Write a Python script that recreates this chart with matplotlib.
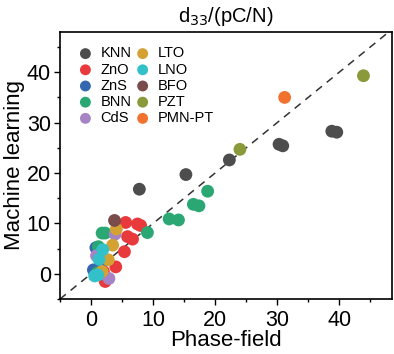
import matplotlib
matplotlib.use("Agg")
import matplotlib.pyplot as plt
from matplotlib.ticker import MultipleLocator

plt.rcParams['font.family'] = ['Liberation Sans', 'DejaVu Sans']

materials = ["KNN", "ZnO", "ZnS", "BNN", "CdS", "LTO", "LNO", "BFO", "PZT", "PMN-PT"]
colors = ["#4d4d4d", "#e8393c", "#3566b0", "#2aa772", "#a583c4",
          "#d4a133", "#33c1c9", "#7a4b4b", "#8a9a3a", "#f0722e"]

phase_field = {
    "KNN": [39.6, 38.8, 30.9, 30.3, 22.3, 15.3, 7.8, 1.0],
    "ZnO": [5.6, 7.5, 8.0, 5.9, 6.7, 5.4, 4.0, 2.3, 2.0],
    "ZnS": [0.4, 1.5, 0.8],
    "BNN": [18.8, 16.5, 17.4, 12.6, 14.1, 9.1, 1.8, 2.3, 1.2, 1.0],
    "CdS": [3.9, 0.9, 2.9, 1.5],
    "LTO": [4.1, 3.5, 2.8, 1.8],
    "LNO": [1.3, 1.1, 1.9, 0.6],
    "BFO": [3.8],
    "PZT": [43.9, 24.0],
    "PMN-PT": [31.2],
}
machine_learning = {
    "KNN": [28.1, 28.3, 25.4, 25.7, 22.6, 19.7, 16.8, 0.3],
    "ZnO": [10.2, 9.9, 9.6, 7.4, 6.9, 4.4, 1.4, -1.5, 0.5],
    "ZnS": [0.8, 1.6, 5.2],
    "BNN": [16.4, 13.8, 13.5, 10.9, 10.7, 8.2, 8.1, 8.1, 5.4, 0.2],
    "CdS": [7.9, 3.6, -0.9, 0.0],
    "LTO": [8.9, 5.7, 2.8, 0.5],
    "LNO": [2.9, -0.2, 4.8, -0.4],
    "BFO": [10.6],
    "PZT": [39.3, 24.7],
    "PMN-PT": [35.0],
}

fig = plt.figure(figsize=(3.94, 3.54), dpi=100)
ax = fig.add_axes([0.152, 0.155, 0.843, 0.755])

xlim = (-5, 48.5)
ylim = (-5, 48)
ax.plot([-5, 50], [-5, 50], ls=(0, (5, 4)), color="#333333", lw=1.1, zorder=1)

for m, c in zip(materials, colors):
    ax.scatter(phase_field[m], machine_learning[m], s=85, color=c, label=m,
               edgecolors="none", zorder=2)

ax.set_xlim(*xlim)
ax.set_ylim(*ylim)
ax.xaxis.set_major_locator(MultipleLocator(10))
ax.yaxis.set_major_locator(MultipleLocator(10))
ax.xaxis.set_minor_locator(MultipleLocator(5))
ax.yaxis.set_minor_locator(MultipleLocator(5))
ax.tick_params(which="major", direction="out", length=4.5, width=1.0, labelsize=15.5)
ax.tick_params(axis="x", which="major", pad=3.5)
ax.tick_params(axis="y", which="major", pad=2)
ax.tick_params(which="minor", direction="out", length=2.5, width=1.0)
for sp in ax.spines.values():
    sp.set_linewidth(1.2)

ax.set_xlabel("Phase-field", fontsize=16, labelpad=-1)
ax.set_ylabel("Machine learning", fontsize=16, labelpad=1)
ax.set_title("d$_{33}$/(pC/N)", fontsize=14.5, pad=7)

leg = ax.legend(ncol=2, loc="upper left", frameon=False, fontsize=10.5,
                handletextpad=0.3, columnspacing=0.0, labelspacing=0.15,
                borderaxespad=0.6, markerscale=0.85, handlelength=1.5)

fig.savefig("out.png", dpi=100)
